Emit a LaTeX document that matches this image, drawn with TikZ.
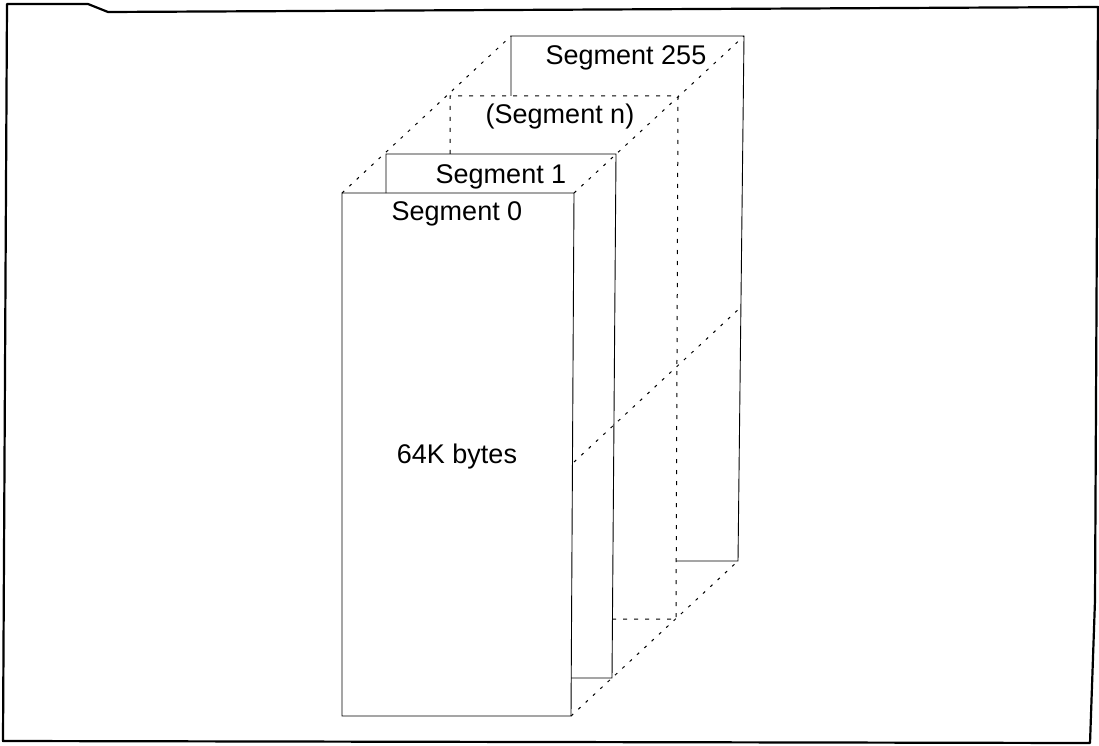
\documentclass[tikz,border=0pt]{standalone}
\usepackage{fontspec}
\setmainfont{Liberation Sans}
\begin{document}
\begin{tikzpicture}[x=1pt,y=-1pt,
  frameline/.style={line width=2.2pt,line join=round},
  boxline/.style={line width=0.9pt},
  hidden/.style={line width=1pt,dash pattern=on 4pt off 7pt},
  diag/.style={line width=1pt,dash pattern=on 3pt off 7pt},
  lbl/.style={anchor=base,inner sep=0pt,font=\fontsize{27}{32}\selectfont}]
\useasboundingbox (0,0) rectangle (1099,746);
% outer frame
\draw[frameline] (7,4) -- (88,4) -- (108,12) -- (1098,7) -- (1095,600) -- (1090,743) -- (3,741) -- cycle;
% corner coordinates
\coordinate (s0tl) at (342,193); \coordinate (s0tr) at (574,193);
\coordinate (s0br) at (571,716); \coordinate (s0bl) at (342,716);
\coordinate (s1tl) at (386,154); \coordinate (s1tr) at (616,154);
\coordinate (s1br) at (612,678);
\coordinate (sntl) at (450,96);  \coordinate (sntr) at (678,96);
\coordinate (snbr) at (676,619);
\coordinate (s5tl) at (511,36);  \coordinate (s5tr) at (744,36);
\coordinate (s5br) at (738,561);
\coordinate (m0) at (574,462); \coordinate (m5) at (741,307);
% Segment 255
\draw[boxline] (s5tl |- sntl) -- (s5tl) -- (s5tr) -- (s5br) -- (s5br -| snbr);
% Segment n (hidden)
\draw[hidden] (sntl |- s1tl) -- (sntl) -- (sntr) -- (snbr) -- (snbr -| s1br);
% Segment 1
\draw[boxline] (s1tl |- s0tl) -- (s1tl) -- (s1tr) -- (s1br) -- (s1br -| s0br);
% Segment 0
\draw[boxline] (s0tl) -- (s0tr) -- (s0br) -- (s0bl) -- cycle;
% diagonals
\draw[diag] (s0tl) -- (s5tl);
\draw[diag] (s0tr) -- (s5tr);
\draw[diag] (s0br) -- (s5br);
\draw[diag] (m0) -- (m5);
% labels
\node[lbl] (l255) at (626,65) {Segment 255};
\node[lbl] (ln) at (560,124) {(Segment n)};
\node[lbl] (l1) at (501,183) {Segment 1};
\node[lbl] (l0) at (457,220) {Segment 0};
\node[lbl] (lb) at (457,463) {64K bytes};
\end{tikzpicture}
\end{document}
